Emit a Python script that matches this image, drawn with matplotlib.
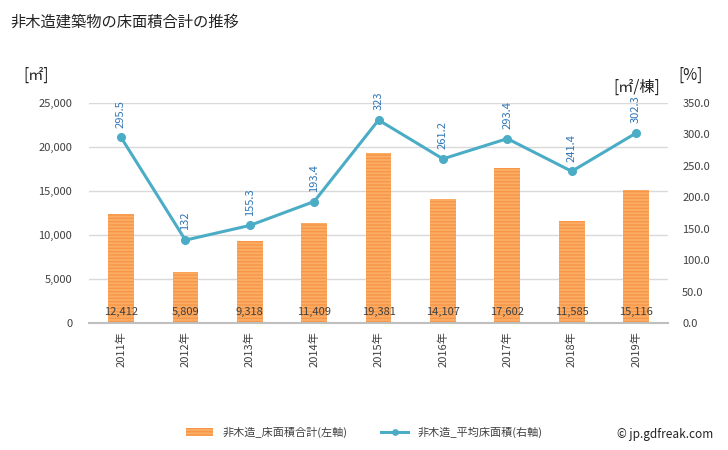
import matplotlib.pyplot as plt
import matplotlib.ticker as mticker
import numpy as np

plt.rcParams['font.family'] = ['Noto Sans CJK JP', 'DejaVu Sans']
plt.rcParams['hatch.linewidth'] = 1.0

years = ['2011年', '2012年', '2013年', '2014年', '2015年', '2016年', '2017年', '2018年', '2019年']
floor_total = [12412, 5809, 9318, 11409, 19381, 14107, 17602, 11585, 15116]
avg_floor = [295.5, 132, 155.3, 193.4, 323, 261.2, 293.4, 241.4, 302.3]
avg_labels = ['295.5', '132', '155.3', '193.4', '323', '261.2', '293.4', '241.4', '302.3']

BAR_COLOR = '#fbad66'
HATCH_COLOR = '#f79646'
LINE_COLOR = '#4bacc6'
LABEL_BLUE = '#2e75b6'
TEXT = '#404040'

fig = plt.figure(figsize=(7.28, 4.5), dpi=100)
ax1 = fig.add_axes([0.122, 0.282, 0.796, 0.489])
ax2 = ax1.twinx()

x = np.arange(len(years))
bars = ax1.bar(x, floor_total, width=0.4, color=BAR_COLOR, edgecolor=HATCH_COLOR,
               linewidth=0, hatch='-----', zorder=2)
for xi, v in zip(x, floor_total):
    ax1.text(xi, 700, f'{v:,}', ha='center', va='bottom', fontsize=8, color=TEXT, zorder=5)

ax1.set_ylim(0, 25000)
ax1.set_xlim(-0.5, len(years) - 0.5)
ax1.yaxis.set_major_locator(mticker.MultipleLocator(5000))
ax1.yaxis.set_major_formatter(mticker.FuncFormatter(lambda v, p: f'{int(v):,}'))
ax1.grid(axis='y', color='#d9d9d9', linewidth=1, zorder=0)
ax1.set_axisbelow(True)
ax1.set_xticks(x)
ax1.set_xticklabels(years, rotation=90, fontsize=8, color=TEXT)
ax1.tick_params(axis='y', labelsize=8, labelcolor=TEXT, length=0, pad=12)
ax1.tick_params(axis='x', length=0, pad=6)
for s in ['top', 'right', 'left']:
    ax1.spines[s].set_visible(False)
ax1.spines['bottom'].set_color('#bfbfbf')
ax1.spines['bottom'].set_linewidth(1.5)

ln, = ax2.plot(x, avg_floor, color=LINE_COLOR, linewidth=2.2, marker='o', markersize=5.5,
               zorder=4)
for xi, v, s in zip(x, avg_floor, avg_labels):
    ax2.annotate(s, (xi, v), xytext=(0, 7), textcoords='offset points', rotation=90,
                 ha='center', va='bottom', fontsize=8, color=LABEL_BLUE)
ax2.set_ylim(0, 350)
ax2.yaxis.set_major_locator(mticker.MultipleLocator(50))
ax2.yaxis.set_major_formatter(mticker.FuncFormatter(lambda v, p: f'{v:.1f}'))
ax2.tick_params(axis='y', labelsize=8, labelcolor=TEXT, length=0, pad=10)
for s in ['top', 'right', 'left', 'bottom']:
    ax2.spines[s].set_visible(False)

fig.text(0.014, 0.95, '非木造建築物の床面積合計の推移', fontsize=11, color='#222222', va='center')
fig.text(0.05, 0.833, '[㎡]', fontsize=11, color='#222222', ha='center', va='center')
fig.text(0.874, 0.805, '[㎡/棟]', fontsize=11, color='#222222', ha='center', va='center')
fig.text(0.948, 0.833, '[%]', fontsize=11, color='#222222', ha='center', va='center')

leg = fig.legend([bars, ln], ['非木造_床面積合計(左軸)', '非木造_平均床面積(右軸)'],
                 loc='center', bbox_to_anchor=(0.5, 0.04), ncol=2, frameon=False,
                 fontsize=8, handlelength=2.5, columnspacing=3, labelcolor=TEXT,
                 markerscale=0.7)
fig.text(0.98, 0.035, '© jp.gdfreak.com', fontsize=8.5, ha='right', va='center', color='#222222')

fig.savefig('out.png', dpi=100)
